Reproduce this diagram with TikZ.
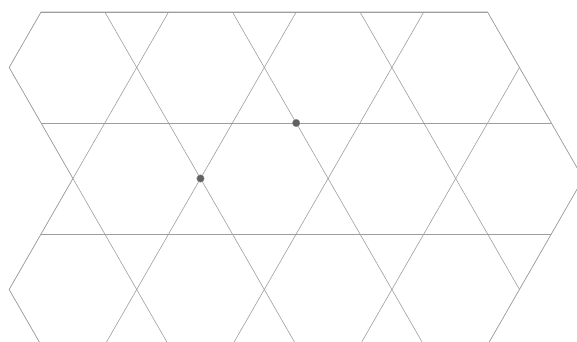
\documentclass[tikz,border=0pt]{standalone}
\usepackage{tikz}

\begin{document}
\begin{tikzpicture}[
      x=63.8pt, y=-111pt,
      edge/.style={draw=black!38, line width=0.6pt},
      dot/.style={circle, fill=black!62, draw=black!45, line width=0.4pt,
                  inner sep=0pt, minimum size=7.5pt}
    ]
    % Rahmen
    \clip (-0.6426,-0.1081) rectangle (8.4013,2.9640);
    \useasboundingbox (-0.6426,-0.1081) rectangle (8.4013,2.9640);

    % Gitter
    \begin{scope}
      \clip (0,0) -- (7,0) -- (8.5,1.5) -- (7,3) -- (0,3) -- (-0.5,2.5)
            -- (0,2) -- (0.5,1.5) -- (0,1) -- (-0.5,0.5) -- cycle;
      \foreach \v in {0,1,2,3}
        \draw[edge] (-1,\v) -- (9,\v);
      \foreach \c in {-3,-1,1,3,5,7}
        \draw[edge] (\c,0) -- (\c+3,3);
      \foreach \c in {0,2,4,6,8,10}
        \draw[edge] (\c,0) -- (\c-3,3);
    \end{scope}
    \draw[edge] (0,0) -- (7,0) -- (8.5,1.5) -- (7,3) -- (0,3) -- (-0.5,2.5)
          -- (0,2) -- (0.5,1.5) -- (0,1) -- (-0.5,0.5) -- cycle;

    % Punkte
    \node[dot] (pa) at (4,1)     {};
    \node[dot] (pb) at (2.5,1.5) {};
  \end{tikzpicture}
\end{document}
